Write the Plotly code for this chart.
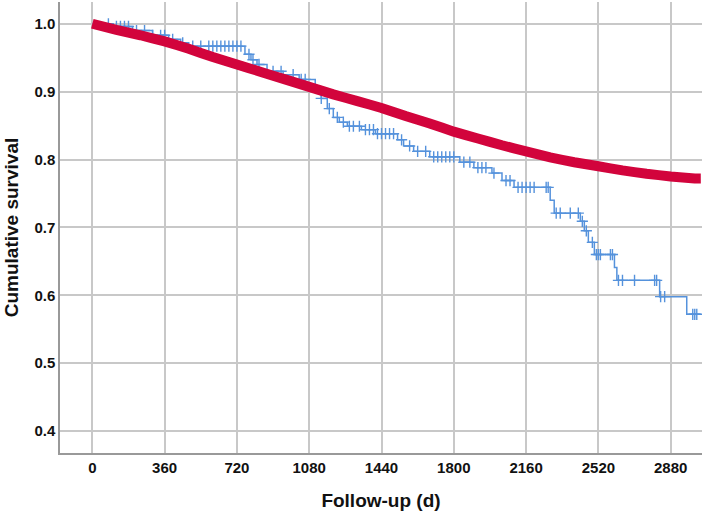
import numpy as np
import plotly.graph_objects as go

# red group: KM step points (days, survival)
red_time = [0, 120, 240, 360, 480, 600, 720, 840, 960, 1080, 1200, 1320, 1440,
            1560, 1680, 1800, 1920, 2040, 2160, 2280, 2400, 2520, 2640, 2760,
            2880, 3000, 3030]
red_surv = [1.0, 0.991, 0.983, 0.974, 0.963, 0.951, 0.94, 0.929, 0.918, 0.907,
            0.896, 0.886, 0.876, 0.864, 0.853, 0.841, 0.831, 0.821, 0.812,
            0.803, 0.796, 0.79, 0.784, 0.779, 0.775, 0.772, 0.772]

# blue group: KM step points
blue_time = [0, 100, 200, 300, 380, 440, 480, 760, 790, 820, 870, 950, 1030,
             1110, 1140, 1170, 1200, 1230, 1270, 1340, 1410, 1520, 1550, 1600,
             1680, 1830, 1900, 1990, 2040, 2100, 2280, 2300, 2430, 2450, 2470,
             2500, 2600, 2612, 2825, 2960, 3030]
blue_surv = [1.0, 0.996, 0.99, 0.983, 0.977, 0.972, 0.967, 0.955, 0.947, 0.94,
             0.93, 0.925, 0.918, 0.905, 0.89, 0.875, 0.862, 0.855, 0.849, 0.844,
             0.838, 0.829, 0.82, 0.812, 0.804, 0.796, 0.788, 0.78, 0.769, 0.759,
             0.74, 0.721, 0.709, 0.695, 0.678, 0.66, 0.641, 0.622, 0.598, 0.572,
             0.572]
blue_censor = [80, 120, 140, 160, 180, 220, 260, 300, 340, 360, 400, 450, 500,
               540, 580, 600, 620, 640, 660, 680, 700, 720, 740, 780, 800, 830,
               900, 940, 1000, 1040, 1060, 1140, 1180, 1220, 1250, 1280, 1300,
               1330, 1360, 1380, 1400, 1420, 1440, 1460, 1480, 1500, 1540, 1580,
               1620, 1660, 1700, 1720, 1740, 1760, 1780, 1800, 1850, 1880, 1920,
               1940, 1960, 2000, 2060, 2080, 2120, 2140, 2160, 2180, 2200, 2260,
               2270, 2310, 2330, 2380, 2420, 2440, 2460, 2490, 2510, 2520, 2530,
               2580, 2590, 2620, 2640, 2700, 2800, 2810, 2830, 2850, 2990, 3000,
               3010]

x_ticks = [0, 360, 720, 1080, 1440, 1800, 2160, 2520, 2880]
y_ticks = [0.4, 0.5, 0.6, 0.7, 0.8, 0.9, 1.0]

RED = "#d2043c"
BLUE = "#5592dc"

# survival level at each censor time, from the step function
idx = np.searchsorted(blue_time, blue_censor, side="right") - 1
blue_censor_y = np.array(blue_surv)[idx]

fig = go.Figure()
fig.add_trace(go.Scatter(x=blue_time, y=blue_surv, mode="lines",
                         line=dict(color=BLUE, width=1.5, shape="hv"),
                         hoverinfo="skip"))
fig.add_trace(go.Scatter(x=blue_censor, y=blue_censor_y, mode="markers",
                         marker=dict(symbol="cross-thin", size=8,
                                     line=dict(color=BLUE, width=1.4))))
fig.add_trace(go.Scatter(x=red_time, y=red_surv, mode="lines",
                         line=dict(color=RED, width=10, shape="spline",
                                   smoothing=0.3)))

axis_font = dict(family="Liberation Sans, Arial", size=15, color="#111",
                 weight="bold")
title_font = dict(family="Liberation Sans, Arial", size=19, color="#111",
                  weight="bold")

fig.update_layout(
    width=709, height=514,
    margin=dict(l=60, r=7, t=2, b=61, autoexpand=False),
    paper_bgcolor="white", plot_bgcolor="white",
    showlegend=False,
    xaxis=dict(range=[-161, 3036], tickvals=x_ticks, tickfont=axis_font,
               showgrid=True, gridcolor="#c8c8c8", gridwidth=1.5,
               showline=True, linecolor="#999", linewidth=1.5,
               zeroline=False, ticks="", ticklen=0, automargin=False,
               title=dict(text="Follow-up (d)", font=title_font, standoff=19)),
    yaxis=dict(range=[0.3677, 1.032], tickvals=y_ticks, tickformat=".1f",
               tickfont=axis_font,
               showgrid=True, gridcolor="#c8c8c8", gridwidth=1.5,
               showline=True, linecolor="#999", linewidth=1.5,
               zeroline=False, ticks="", ticklen=0, automargin=False,
               title=dict(text="Cumulative survival", font=title_font,
                          standoff=11)),
)

# drop the default page margin so the figure sits at the window's corner
fig.write_html("out.html", config={"displayModeBar": False},
               post_script="document.body.style.margin='0';")
